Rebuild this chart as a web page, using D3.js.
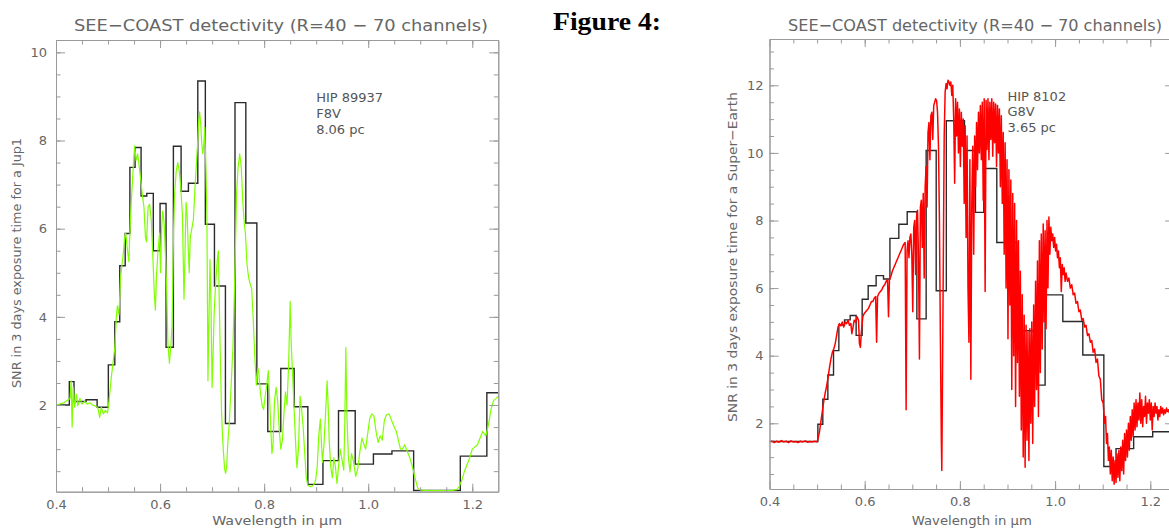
<!DOCTYPE html>
<html>
<head>
<meta charset="utf-8">
<script src="https://cdn.jsdelivr.net/npm/d3@7"></script>
<style>
body { margin: 0; background: #fff; }
svg { display: block; }
text { font-family: "DejaVu Sans", sans-serif; fill: #666; }
.axis path, .axis line { stroke: #9a9a9a; stroke-width: 1; }
.tick text { font-size: 13px; }
</style>
</head>
<body>
<svg id="fig" width="1169" height="530"></svg>
<script>
// axis ticks
const xTicks = [0.4, 0.6, 0.8, 1.0, 1.2];
const jupYTicks = [2, 4, 6, 8, 10];
const earthYTicks = [2, 4, 6, 8, 10, 12];

// HIP 89937 : binned SNR (channel edges + values) and full resolution spectrum
const jupBinEdges = [0.400, 0.4256, 0.4346, 0.4577, 0.479, 0.5006, 0.513, 0.5225, 0.533, 0.542,
  0.552, 0.5635, 0.5744, 0.587, 0.600, 0.6115, 0.6256, 0.6404, 0.6545, 0.6725, 0.687, 0.7045,
  0.7256, 0.744, 0.7648, 0.786, 0.807, 0.832, 0.8577, 0.884, 0.913, 0.9429, 0.975, 1.010,
  1.0456, 1.0873, 1.177, 1.228, 1.25];
const jupBinSnr = [2.00, 2.53, 2.08, 2.12, 1.95, 2.91, 3.89, 5.16, 5.89, 7.39, 7.84, 6.74, 6.80,
  5.50, 6.57, 3.31, 7.87, 6.85, 7.03, 9.35, 6.10, 4.70, 1.58, 8.86, 6.13, 2.48, 1.40, 2.83, 1.96,
  0.20, 0.74, 1.87, 0.66, 0.89, 0.96, 0.06, 0.84, 2.28];

const jupWl = [0.400, 0.415, 0.427, 0.429, 0.431, 0.433, 0.436, 0.439, 0.442, 0.446, 0.450, 0.455,
  0.460, 0.465, 0.470, 0.475, 0.480, 0.484, 0.487, 0.491, 0.495, 0.499, 0.502, 0.506, 0.510, 0.513,
  0.516, 0.518, 0.521, 0.524, 0.527, 0.529, 0.532, 0.534, 0.537, 0.540, 0.543, 0.546, 0.549, 0.551,
  0.554, 0.557, 0.560, 0.563, 0.566, 0.569, 0.572, 0.574, 0.577, 0.580, 0.583, 0.586, 0.589, 0.591,
  0.593, 0.596, 0.599, 0.601, 0.603, 0.605, 0.608, 0.611, 0.613, 0.615, 0.618, 0.621, 0.623, 0.626,
  0.628, 0.631, 0.634, 0.637, 0.640, 0.643, 0.645, 0.646, 0.648, 0.650, 0.652, 0.654, 0.656, 0.658,
  0.661, 0.664, 0.667, 0.670, 0.672, 0.674, 0.676, 0.678, 0.680, 0.682, 0.684, 0.686, 0.688, 0.690,
  0.692, 0.694, 0.696, 0.698, 0.700, 0.702, 0.704, 0.707, 0.710, 0.712, 0.714, 0.716, 0.718, 0.720,
  0.722, 0.724, 0.726, 0.728, 0.730, 0.733, 0.736, 0.740, 0.744, 0.747, 0.750, 0.753, 0.756, 0.759,
  0.762, 0.764, 0.767, 0.770, 0.773, 0.776, 0.779, 0.782, 0.785, 0.788, 0.790, 0.793, 0.796, 0.799,
  0.802, 0.805, 0.808, 0.810, 0.813, 0.815, 0.817, 0.820, 0.823, 0.826, 0.829, 0.832, 0.835, 0.838,
  0.841, 0.844, 0.847, 0.850, 0.852, 0.855, 0.858, 0.861, 0.863, 0.866, 0.869, 0.872, 0.875, 0.878,
  0.881, 0.884, 0.888, 0.892, 0.896, 0.899, 0.902, 0.905, 0.908, 0.910, 0.912, 0.915, 0.918, 0.921,
  0.923, 0.925, 0.928, 0.931, 0.934, 0.937, 0.940, 0.943, 0.946, 0.949, 0.953, 0.955, 0.957, 0.959,
  0.962, 0.965, 0.968, 0.972, 0.976, 0.980, 0.984, 0.988, 0.992, 0.995, 0.999, 1.003, 1.007, 1.011,
  1.015, 1.019, 1.023, 1.027, 1.031, 1.035, 1.040, 1.045, 1.050, 1.054, 1.058, 1.062, 1.066, 1.070,
  1.075, 1.080, 1.085, 1.090, 1.095, 1.100, 1.120, 1.140, 1.160, 1.170, 1.175, 1.180, 1.185, 1.190,
  1.195, 1.200, 1.205, 1.210, 1.215, 1.220, 1.226, 1.231, 1.236, 1.241, 1.246, 1.250];
const jupSnr = [2.00, 2.05, 2.15, 2.55, 1.50, 2.40, 1.95, 2.25, 1.98, 2.15, 2.02, 2.08,
  2.02, 2.05, 2.00, 1.98, 1.95, 1.72, 1.95, 1.80, 1.88, 1.82, 2.10, 2.60, 3.00, 3.30,
  4.00, 4.25, 4.05, 4.90, 5.20, 5.40, 5.80, 5.90, 5.55, 5.25, 6.20, 6.90, 7.50, 7.88,
  7.55, 7.70, 7.40, 7.10, 6.75, 6.50, 5.80, 5.70, 6.50, 6.55, 6.20, 5.40, 4.50, 4.15,
  4.90, 5.50, 5.90, 5.00, 6.00, 6.40, 6.10, 5.20, 4.50, 3.40, 2.95, 3.40, 3.80, 6.00,
  6.80, 7.30, 7.50, 7.30, 6.90, 6.30, 5.00, 4.40, 5.50, 6.60, 6.30, 5.60, 5.00, 5.80,
  6.00, 6.20, 6.90, 7.50, 7.90, 8.40, 8.65, 8.40, 7.95, 7.70, 7.90, 8.30, 7.40, 6.30,
  2.55, 4.00, 5.30, 4.20, 2.40, 3.20, 4.10, 4.80, 5.30, 5.50, 4.20, 3.00, 1.90, 1.30,
  0.90, 0.55, 0.45, 0.60, 1.10, 1.60, 2.30, 3.30, 5.10, 6.80, 7.40, 7.70, 7.40, 6.60,
  6.10, 5.90, 5.20, 4.90, 4.75, 4.65, 3.95, 3.10, 2.45, 2.85, 2.70, 2.25, 2.00, 1.90,
  2.20, 2.45, 2.78, 2.30, 1.40, 0.90, 1.10, 2.10, 2.40, 2.10, 1.45, 1.00, 1.20, 1.80,
  2.30, 2.00, 2.90, 4.35, 3.40, 2.60, 1.80, 1.00, 0.58, 1.00, 2.20, 1.90, 1.50, 0.90,
  0.35, 0.18, 0.15, 0.16, 0.20, 0.30, 0.60, 1.30, 1.68, 1.20, 0.70, 1.10, 1.80, 2.55,
  2.00, 1.20, 0.60, 0.35, 0.80, 0.60, 0.22, 0.60, 1.00, 0.80, 0.52, 1.60, 3.30, 1.80,
  0.80, 0.48, 0.90, 0.70, 0.38, 0.55, 0.95, 1.25, 1.10, 1.00, 1.35, 1.70, 1.80, 1.75,
  1.40, 1.15, 1.30, 1.20, 1.65, 1.78, 1.80, 1.65, 1.50, 1.40, 1.20, 1.00, 1.00, 1.10,
  0.95, 0.80, 0.60, 0.35, 0.12, 0.07, 0.06, 0.06, 0.06, 0.08, 0.15, 0.30, 0.50, 0.65,
  0.80, 1.00, 1.05, 1.10, 1.25, 1.40, 1.30, 1.55, 1.90, 2.10, 2.15, 2.20];

// HIP 8102 : binned SNR and full resolution spectrum
const earthBinEdges = [0.400, 0.5016, 0.512, 0.5226, 0.5345, 0.5457, 0.5576, 0.5695, 0.582, 0.5947,
  0.6073, 0.624, 0.6395, 0.653, 0.6717, 0.6893, 0.7096, 0.7291, 0.7502, 0.7715, 0.8096, 0.8327,
  0.8502, 0.8775, 0.9196, 0.9637, 0.979, 1.0162, 1.0582, 1.1024, 1.128, 1.165, 1.205, 1.25];
const earthBinSnr = [1.46, 1.97, 2.71, 3.43, 4.15, 4.91, 5.06, 5.19, 4.60, 5.67, 6.07, 6.37, 6.27,
  7.47, 7.89, 8.26, 5.09, 10.07, 5.92, 10.95, 10.07, 8.24, 9.54, 7.35, 4.74, 3.13, 5.80, 5.01,
  4.02, 0.72, 1.25, 1.60, 1.75];

const earthWl = [0.400, 0.405, 0.410, 0.415, 0.420, 0.425, 0.430, 0.435, 0.440, 0.445, 0.450, 0.455,
  0.460, 0.465, 0.470, 0.475, 0.480, 0.485, 0.490, 0.495, 0.500,
  0.502, 0.505, 0.508, 0.511, 0.514, 0.517, 0.520, 0.523, 0.526, 0.529, 0.532, 0.535, 0.538, 0.541,
  0.544, 0.547, 0.550, 0.553, 0.556, 0.559,
  0.562, 0.565, 0.568, 0.571, 0.573, 0.575, 0.578, 0.581, 0.584, 0.587, 0.589, 0.591, 0.593, 0.596,
  0.599, 0.602, 0.605, 0.608, 0.611, 0.614, 0.617, 0.620, 0.623, 0.625, 0.627, 0.630, 0.633, 0.636,
  0.639, 0.642, 0.645, 0.648, 0.650, 0.652, 0.655, 0.658, 0.661, 0.664, 0.667, 0.670, 0.673, 0.676,
  0.679, 0.682, 0.685, 0.687, 0.689, 0.691, 0.693, 0.695, 0.697, 0.699, 0.701, 0.703, 0.705, 0.707,
  0.709, 0.711, 0.713, 0.715, 0.717, 0.719, 0.721, 0.723, 0.725, 0.727, 0.729, 0.731, 0.733, 0.735,
  0.737, 0.739, 0.741, 0.743, 0.745, 0.747, 0.749, 0.751, 0.753, 0.755, 0.757, 0.759, 0.761, 0.762,
  0.763, 0.765, 0.767, 0.769, 0.771, 0.773, 0.775, 0.777, 0.779, 0.781, 0.783, 0.785,
  0.787, 0.789, 0.791, 0.793, 0.795, 0.797, 0.799, 0.801, 0.803, 0.805, 0.807, 0.809, 0.811, 0.813,
  0.815, 0.817, 0.819, 0.821, 0.823, 0.825, 0.827, 0.829, 0.831, 0.833, 0.835, 0.837, 0.839, 0.841,
  0.843, 0.845, 0.847, 0.849, 0.851, 0.853, 0.855, 0.857, 0.859, 0.861, 0.863, 0.865, 0.867, 0.869,
  0.871, 0.873, 0.875, 0.877, 0.879, 0.881, 0.883, 0.885, 0.887, 0.889, 0.891, 0.893, 0.895, 0.897,
  0.899, 0.901, 0.903, 0.905, 0.907, 0.909, 0.911, 0.913, 0.915, 0.917, 0.919, 0.921, 0.923, 0.925,
  0.927, 0.929, 0.931, 0.933, 0.935, 0.937, 0.939, 0.941, 0.943, 0.945, 0.947, 0.949, 0.951, 0.953,
  0.955, 0.957, 0.959, 0.961, 0.963, 0.965, 0.967, 0.969, 0.971, 0.973, 0.975, 0.977, 0.979, 0.981,
  0.983, 0.985, 0.987, 0.989, 0.991, 0.993, 0.995, 0.997,
  0.999, 1.001, 1.003, 1.005, 1.007, 1.009, 1.011, 1.013, 1.015, 1.017, 1.019, 1.021, 1.023, 1.026,
  1.029, 1.032, 1.035, 1.038, 1.041, 1.044, 1.047, 1.050, 1.053, 1.056, 1.059, 1.062, 1.065, 1.068,
  1.071, 1.074, 1.077, 1.080, 1.083, 1.086, 1.089, 1.092, 1.095, 1.098, 1.101, 1.104, 1.106, 1.108,
  1.110, 1.112, 1.114, 1.116, 1.118, 1.120, 1.122, 1.124, 1.126, 1.128, 1.130, 1.132, 1.134, 1.136,
  1.138, 1.140, 1.142, 1.144, 1.146, 1.148, 1.150, 1.152, 1.154, 1.156, 1.158, 1.160, 1.162, 1.164,
  1.166, 1.168, 1.170, 1.172, 1.174, 1.176, 1.178, 1.180, 1.182, 1.184, 1.186, 1.188, 1.190, 1.192,
  1.194, 1.196, 1.198, 1.200, 1.202, 1.204, 1.206, 1.208, 1.210, 1.212, 1.214, 1.216, 1.218, 1.220,
  1.222, 1.224, 1.226, 1.228, 1.230, 1.232, 1.234, 1.236, 1.238, 1.240];
const earthSnr = [1.45, 1.48, 1.43, 1.47, 1.44, 1.49, 1.45, 1.47, 1.43, 1.48, 1.45, 1.46,
  1.43, 1.47, 1.45, 1.48, 1.44, 1.46, 1.45, 1.47, 1.45,
  1.55, 1.75, 2.05, 2.35, 2.65, 2.90, 3.10, 3.35, 3.65, 3.90, 4.10, 4.20, 4.35, 4.60,
  4.85, 4.95, 4.88, 5.00, 4.85, 5.00,
  4.95, 5.05, 4.90, 4.95, 4.65, 4.80, 5.05, 5.00, 5.15, 5.05, 4.35, 4.25, 4.70, 5.15,
  5.25, 5.30, 5.35, 5.40, 5.50, 5.60, 5.60, 5.70, 5.75, 4.40, 5.75, 5.85, 5.90, 5.95,
  6.05, 6.10, 6.20, 6.25, 5.15, 6.25, 6.35, 6.50, 6.60, 6.70, 6.80, 6.90, 7.00, 7.10,
  7.20, 7.30, 7.35, 2.40, 7.10, 7.40, 6.90, 7.50, 7.60, 7.00, 5.30, 7.80, 8.00, 6.40,
  8.10, 8.30, 6.90, 3.90, 8.40, 8.60, 7.20, 8.80, 6.30, 9.00, 9.60, 8.40, 10.60, 10.90,
  9.80, 11.10, 11.20, 10.40, 11.40, 11.50, 11.60, 11.55, 11.20, 10.20, 8.00, 4.50, 1.50, 0.60,
  2.50, 6.50, 10.50, 11.80, 12.05, 11.90, 12.15, 12.10, 12.00, 12.10, 11.70, 12.00,
  11.00, 9.10, 11.60, 10.50, 11.50, 10.00, 11.30, 9.60, 11.20, 10.20, 11.00, 8.50, 10.80, 7.50,
  10.50, 6.00, 4.40, 9.80, 3.30, 8.50, 10.20, 7.00, 10.50, 9.00, 10.90, 9.50, 11.20, 10.00,
  11.40, 9.80, 11.50, 8.60, 11.60, 5.90, 11.55, 10.10, 11.60, 9.80, 11.50, 10.40, 11.60, 9.90,
  11.50, 10.30, 11.45, 9.60, 11.40, 10.00, 11.30, 9.00, 11.10, 8.50, 10.60, 7.00, 10.30, 6.00,
  9.80, 4.50, 9.50, 5.50, 9.20, 3.00, 8.80, 4.00, 8.50, 2.50, 8.00, 3.80, 7.40, 2.80,
  6.50, 1.80, 5.80, 1.00, 5.20, 0.70, 4.90, 1.50, 4.70, 0.90, 4.80, 2.00, 5.00, 1.40,
  5.50, 2.50, 6.20, 3.00, 6.80, 2.20, 7.40, 3.50, 7.60, 4.20, 7.90, 5.00, 7.70, 4.80,
  8.00, 6.00, 8.10, 7.00, 7.80, 7.40, 7.60, 7.20,
  7.50, 7.10, 7.30, 6.90, 7.10, 6.60, 6.90, 5.90, 6.70, 6.40, 6.60, 6.20, 6.45, 6.20,
  6.30, 6.00, 6.10, 5.80, 5.85, 5.55, 5.60, 5.30, 5.35, 5.05, 5.10, 4.85, 4.90, 4.60,
  4.65, 4.40, 4.45, 4.10, 4.20, 3.80, 3.90, 3.40, 3.30, 2.70, 2.60, 2.00, 2.20, 1.40,
  1.70, 0.90, 1.30, 0.50, 1.20, 0.30, 1.00, 0.20, 0.90, 0.25, 1.10, 0.40, 1.20, 0.30,
  1.30, 0.60, 1.50, 0.50, 1.70, 0.90, 1.80, 1.00, 2.00, 1.20, 2.20, 1.50, 2.40, 1.60,
  2.60, 1.80, 2.70, 1.90, 2.60, 2.10, 2.90, 2.00, 2.70, 1.90, 2.50, 2.20, 2.80, 2.00,
  2.60, 2.30, 2.70, 2.10, 2.60, 1.80, 2.50, 2.20, 2.60, 2.30, 2.50, 2.10, 2.40, 2.20,
  2.50, 2.30, 2.45, 2.25, 2.40, 2.30, 2.45, 2.35, 2.40, 2.30];

function stepPoints(edges, vals) {
  var pts = vals.map(function(v, i) { return [edges[i], v]; });
  pts.push([edges[edges.length - 1], vals[vals.length - 1]]);
  return pts;
}

function detectivityPlot(svg, geom, d) {
  var x = d3.scaleLinear().domain([0.4, 1.25]).range([geom.L, geom.R]);
  var y = d3.scaleLinear().domain(geom.yDom).range([geom.B, geom.T]);

  var clipId = "clip-" + geom.name;
  svg.append("clipPath").attr("id", clipId)
    .append("rect")
    .attr("x", geom.L).attr("y", geom.T)
    .attr("width", geom.R - geom.L).attr("height", geom.B - geom.T);

  var line = d3.line()
    .x(function(p) { return x(p[0]); })
    .y(function(p) { return y(p[1]); });

  var plot = svg.append("g").attr("clip-path", "url(#" + clipId + ")");

  plot.append("path")
    .datum(stepPoints(d.edges, d.bins))
    .attr("fill", "none")
    .attr("stroke", "#2a2a2a")
    .attr("stroke-width", 1.4)
    .attr("d", line.curve(d3.curveStepAfter));

  plot.append("path")
    .datum(d3.zip(d.wl, d.snr))
    .attr("fill", "none")
    .attr("stroke", d.color)
    .attr("stroke-width", d.width)
    .attr("stroke-linejoin", "round")
    .attr("d", line.curve(d3.curveLinear));

  // box with inward ticks on all four sides
  var xMinor = d3.range(9, 25).map(function(i) { return i * 0.05; });
  var yMinor = d3.range(1, Math.floor(geom.yDom[1] * 2) + 1).map(function(i) { return i * 0.5; });

  var axes = [
    [d3.axisBottom(x).tickValues(xTicks).tickFormat(d3.format(".1f")).tickSize(-8).tickPadding(8), geom.B, 0],
    [d3.axisBottom(x).tickValues(xMinor).tickFormat("").tickSize(-4.5), geom.B, 0],
    [d3.axisTop(x).tickValues(xTicks).tickFormat("").tickSize(-8), geom.T, 0],
    [d3.axisTop(x).tickValues(xMinor).tickFormat("").tickSize(-4.5), geom.T, 0],
    [d3.axisLeft(y).tickValues(geom.yTicks).tickSize(-9).tickPadding(geom.yPad), 0, geom.L],
    [d3.axisLeft(y).tickValues(yMinor).tickFormat("").tickSize(-4.5), 0, geom.L],
    [d3.axisRight(y).tickValues(geom.yTicks).tickFormat("").tickSize(-9), 0, geom.R],
    [d3.axisRight(y).tickValues(yMinor).tickFormat("").tickSize(-4.5), 0, geom.R]
  ];
  axes.forEach(function(a) {
    svg.append("g")
      .attr("class", "axis")
      .attr("transform", "translate(" + a[2] + "," + a[1] + ")")
      .call(a[0].tickSizeOuter(0));
  });

  svg.append("text")
    .attr("x", geom.titleX).attr("y", 31)
    .attr("text-anchor", "middle")
    .attr("font-size", 16)
    .attr("textLength", geom.titleW).attr("lengthAdjust", "spacingAndGlyphs")
    .text("SEE\u2212COAST detectivity (R=40 \u2212 70 channels)");

  svg.append("text")
    .attr("x", (geom.L + geom.R) / 2).attr("y", 525)
    .attr("text-anchor", "middle")
    .attr("font-size", 13)
    .attr("textLength", geom.xLabW).attr("lengthAdjust", "spacingAndGlyphs")
    .text("Wavelength in \u03bcm");

  svg.append("text")
    .attr("transform", "translate(" + geom.yLabX + "," + geom.yLabY + ") rotate(-90)")
    .attr("text-anchor", "middle")
    .attr("font-size", 13)
    .attr("textLength", geom.yLabW).attr("lengthAdjust", "spacingAndGlyphs")
    .text(d.yLabel);

  var note = svg.append("text")
    .attr("font-size", 13)
    .style("fill", "#555");
  d.note.forEach(function(s, i) {
    note.append("tspan")
      .attr("x", x(d.noteAt[0]))
      .attr("y", y(d.noteAt[1]) + i * 15.7)
      .text(s);
  });
}

var svg = d3.select("#fig");

detectivityPlot(svg,
  {name: "jup", L: 56, R: 498.3, T: 40, B: 491.7, yDom: [0.034, 10.28], yTicks: jupYTicks, yPad: 9,
   titleX: 281, titleW: 414, xLabW: 130, yLabX: 21, yLabY: 263, yLabW: 250},
  {edges: jupBinEdges, bins: jupBinSnr, wl: jupWl, snr: jupSnr, color: "#7fff00", width: 1.2,
   yLabel: "SNR in 3 days exposure time for a Jup1",
   note: ["HIP 89937", "F8V", "8.06 pc"], noteAt: [0.9, 8.87]});

detectivityPlot(svg,
  {name: "earth", L: 769.5, R: 1174.1, T: 39, B: 489, yDom: [0.056, 13.37], yTicks: earthYTicks, yPad: 6,
   titleX: 975, titleW: 374, xLabW: 120, yLabX: 737, yLabY: 257, yLabW: 330},
  {edges: earthBinEdges, bins: earthBinSnr, wl: earthWl, snr: earthSnr, color: "#ff0000", width: 1.5,
   yLabel: "SNR in 3 days exposure time for a Super\u2212Earth",
   note: ["HIP 8102", "G8V", "3.65 pc"], noteAt: [0.9, 11.55]});

svg.append("text")
  .attr("x", 553).attr("y", 30)
  .attr("font-weight", "bold")
  .attr("font-size", 26)
  .attr("textLength", 108).attr("lengthAdjust", "spacingAndGlyphs")
  .style("font-family", "'Liberation Serif', 'Times New Roman', serif")
  .style("fill", "#000")
  .text("Figure 4:");
</script>
</body>
</html>
